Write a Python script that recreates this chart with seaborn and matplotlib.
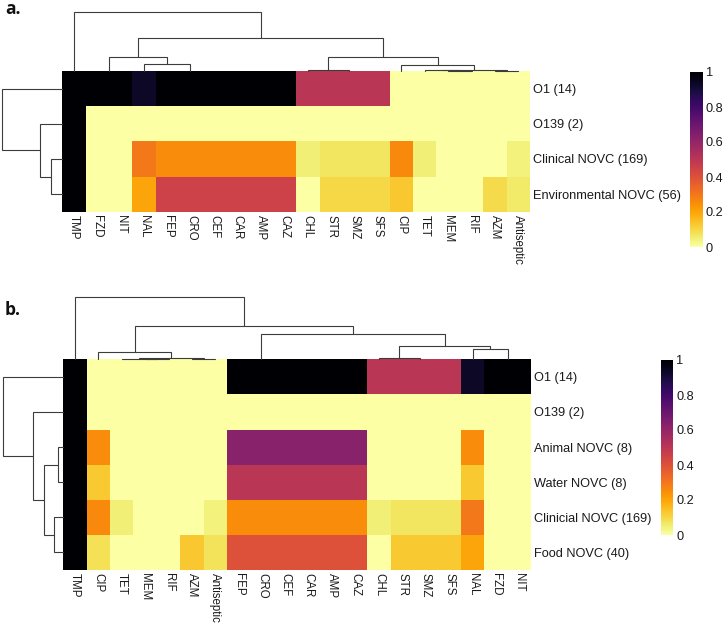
import matplotlib
matplotlib.use("Agg")
import matplotlib.pyplot as plt
import seaborn as sns
import pandas as pd

# ---------------- data ----------------
cols_a = ["TMP", "FZD", "NIT", "NAL", "FEP", "CRO", "CEF", "CAR", "AMP", "CAZ",
          "CHL", "STR", "SMZ", "SFS", "CIP", "TET", "MEM", "RIF", "AZM", "Antiseptic"]
rows_a = ["O1 (14)", "O139 (2)", "Clinical NOVC (169)", "Environmental NOVC (56)"]
a_o1 = [1, 1, 1, 0.93, 1, 1, 1, 1, 1, 1, 0.5, 0.5, 0.5, 0.5, 0, 0, 0, 0, 0, 0]
a_o139 = [1, 0, 0, 0, 0, 0, 0, 0, 0, 0, 0, 0, 0, 0, 0, 0, 0, 0, 0, 0]
a_clin = [1, 0, 0, 0.30, 0.25, 0.25, 0.25, 0.25, 0.25, 0.25,
          0.05, 0.07, 0.07, 0.07, 0.26, 0.05, 0, 0, 0, 0.04]
a_env = [1, 0, 0, 0.20, 0.45, 0.45, 0.45, 0.45, 0.45, 0.45,
         0, 0.10, 0.10, 0.10, 0.13, 0, 0, 0, 0.09, 0.06]

cols_b = ["TMP", "CIP", "TET", "MEM", "RIF", "AZM", "Antiseptic", "FEP", "CRO", "CEF",
          "CAR", "AMP", "CAZ", "CHL", "STR", "SMZ", "SFS", "NAL", "FZD", "NIT"]
rows_b = ["O1 (14)", "O139 (2)", "Animal NOVC (8)", "Water NOVC (8)",
          "Clinicial NOVC (169)", "Food NOVC (40)"]
b_o1 = [1, 0, 0, 0, 0, 0, 0, 1, 1, 1, 1, 1, 1, 0.5, 0.5, 0.5, 0.5, 0.93, 1, 1]
b_o139 = [1, 0, 0, 0, 0, 0, 0, 0, 0, 0, 0, 0, 0, 0, 0, 0, 0, 0, 0, 0]
b_animal = [1, 0.25, 0, 0, 0, 0, 0, 0.625, 0.625, 0.625, 0.625, 0.625, 0.625,
            0, 0, 0, 0, 0.25, 0, 0]
b_water = [1, 0.125, 0, 0, 0, 0, 0, 0.5, 0.5, 0.5, 0.5, 0.5, 0.5,
           0, 0, 0, 0, 0.125, 0, 0]
b_clin = [1, 0.26, 0.05, 0, 0, 0, 0.04, 0.25, 0.25, 0.25, 0.25, 0.25, 0.25,
          0.05, 0.07, 0.07, 0.07, 0.30, 0, 0]
b_food = [1, 0.08, 0, 0, 0, 0.13, 0.075, 0.4, 0.4, 0.4, 0.4, 0.4, 0.4,
          0, 0.125, 0.125, 0.125, 0.2, 0, 0]

# dendrograms: (left, right, merge height)
fep_chain = ("FEP", ("CRO", ("CEF", ("CAR", ("AMP", "CAZ", 0), 0), 0), 0), 0)
str_chain = ("STR", ("SMZ", "SFS", 0), 0)
misc_group = (("TET", ("MEM", "RIF", 0.4), 0.7), ("AZM", "Antiseptic", 0.5), 1.1)

tree_cols_a = ("TMP",
               ((("FZD", "NIT", 0), ("NAL", fep_chain, 6.7), 13.7),
                (("CHL", str_chain, 1.0), ("CIP", misc_group, 6.0), 14.3), 33.3),
               59.3)
tree_rows_a = ("O1 (14)",
               ("O139 (2)", ("Clinical NOVC (169)", "Environmental NOVC (56)", 11.0), 22.0),
               60.3)

tree_cols_b = ("TMP",
               (("CIP", misc_group, 7.6),
                (fep_chain, (("CHL", str_chain, 1.6), ("NAL", ("FZD", "NIT", 0), 10.0), 13.6), 25.0),
                33.3),
               62.3)
tree_rows_b = ("O1 (14)",
               ("O139 (2)",
                (("Animal NOVC (8)", "Water NOVC (8)", 5.0),
                 ("Clinicial NOVC (169)", "Food NOVC (40)", 9.0), 19.0), 30.0),
               60.6)

# ---------------- style ----------------
sns.set_theme(style="white")
plt.rcParams["font.family"] = ["Liberation Sans", "DejaVu Sans"]

W, H = 723, 625
fig = plt.figure(figsize=(W / 100, H / 100), dpi=100)


def fax(x0, y0, x1, y1):
    return fig.add_axes([x0 / W, 1 - y1 / H, (x1 - x0) / W, (y1 - y0) / H])


def layout(tree, order):
    if isinstance(tree, str):
        return order.index(tree) + 0.5, 0.0, []
    l, r, h = tree
    pl, hl, ll = layout(l, order)
    pr, hr, lr = layout(r, order)
    return (pl + pr) / 2, h, ll + lr + [(pl, hl, pr, hr, h)]


LC = "#3c3c3c"
LW = 0.8


def draw_top(ax, tree, order):
    _, hmax, links = layout(tree, order)
    for pl, hl, pr, hr, h in links:
        if h > 0:
            ax.plot([pl, pl, pr, pr], [hl, h, h, hr], color=LC, lw=LW,
                    clip_on=False, solid_joinstyle="miter")
    ax.set_xlim(0, len(order))
    ax.set_ylim(0, hmax)
    ax.axis("off")


def draw_left(ax, tree, order):
    _, hmax, links = layout(tree, order)
    for pl, hl, pr, hr, h in links:
        if h > 0:
            ax.plot([hl, h, h, hr], [pl, pl, pr, pr], color=LC, lw=LW,
                    clip_on=False, solid_joinstyle="miter")
    ax.set_ylim(len(order), 0)
    ax.set_xlim(hmax, 0)
    ax.axis("off")


def panel(rows, cols, data, tree_c, tree_r, hm_box, top_y0, left_x0, cb_box, letter, letter_y):
    x0, y0, x1, y1 = hm_box
    df = pd.DataFrame(data, index=rows, columns=cols)
    ax = fax(x0, y0, x1, y1)
    cax = fax(*cb_box)
    sns.heatmap(df, ax=ax, cmap="inferno_r", vmin=0, vmax=1, cbar_ax=cax,
                xticklabels=True, yticklabels=True, linewidths=0)
    ax.yaxis.tick_right()
    ax.set_yticklabels(rows, rotation=0, fontsize=9.2, color="#1a1a1a")
    ax.set_xticklabels(cols, rotation=-90, fontsize=8.3, color="#1a1a1a",
                       ha="center", va="top")
    ax.tick_params(axis="both", length=0)
    ax.tick_params(axis="x", pad=2.5)
    ax.tick_params(axis="y", pad=2.2)
    ax.set_xlabel("")
    ax.set_ylabel("")

    cbar = ax.collections[0].colorbar
    cbar.outline.set_visible(False)
    cbar.set_ticks([0, 0.2, 0.4, 0.6, 0.8, 1])
    cbar.set_ticklabels(["0", "0.2", "0.4", "0.6", "0.8", "1"])
    cax.tick_params(length=0, pad=2, labelsize=9.2, labelcolor="#1a1a1a")

    axt = fax(x0, top_y0, x1, y0)
    draw_top(axt, tree_c, cols)
    axl = fax(left_x0, y0, x0, y1)
    draw_left(axl, tree_r, rows)

    fig.text(5 / W, 1 - letter_y / H, letter, fontsize=12.5, fontweight="bold",
             family=["Open Sans", "DejaVu Sans"], va="top", ha="left", color="#111111")


panel(rows_a, cols_a, [a_o1, a_o139, a_clin, a_env], tree_cols_a, tree_rows_a,
      (62.3, 71.0, 530.0, 211.7), 11.7, 1.7, (690, 72, 703, 247), "a.", 0)
panel(rows_b, cols_b, [b_o1, b_o139, b_animal, b_water, b_clin, b_food],
      tree_cols_b, tree_rows_b,
      (63.3, 359.3, 531.0, 570.0), 297.0, 2.7, (661, 360, 673.3, 535), "b.", 301)

fig.savefig("out.png", dpi=100)
